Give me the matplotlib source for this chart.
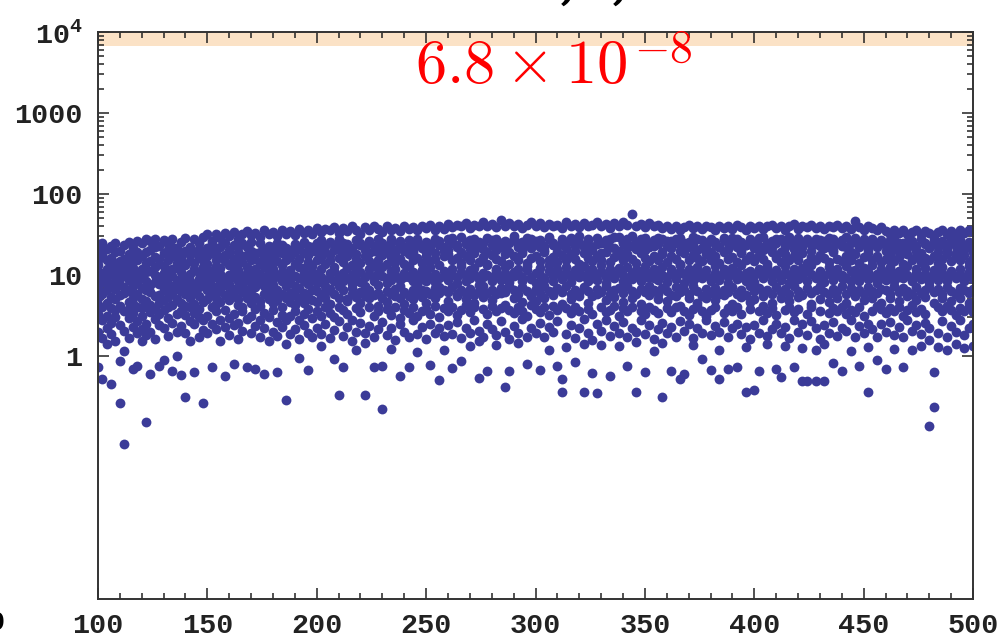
"""Log-scale scatter of sampled values, Mathematica-style frame."""
import matplotlib
matplotlib.use("Agg")
import matplotlib.pyplot as plt
from matplotlib.ticker import FixedLocator, NullFormatter

# x position of each sampled column
X_COLS = [
    100, 102, 104, 106, 108, 110, 112, 114, 116, 118,
    120, 122, 124, 126, 128, 130, 132, 134, 136, 138,
    140, 142, 144, 146, 148, 150, 152, 154, 156, 158,
    160, 162, 164, 166, 168, 170, 172, 174, 176, 178,
    180, 182, 184, 186, 188, 190, 192, 194, 196, 198,
    200, 202, 204, 206, 208, 210, 212, 214, 216, 218,
    220, 222, 224, 226, 228, 230, 232, 234, 236, 238,
    240, 242, 244, 246, 248, 250, 252, 254, 256, 258,
    260, 262, 264, 266, 268, 270, 272, 274, 276, 278,
    280, 282, 284, 286, 288, 290, 292, 294, 296, 298,
    300, 302, 304, 306, 308, 310, 312, 314, 316, 318,
    320, 322, 324, 326, 328, 330, 332, 334, 336, 338,
    340, 342, 344, 346, 348, 350, 352, 354, 356, 358,
    360, 362, 364, 366, 368, 370, 372, 374, 376, 378,
    380, 382, 384, 386, 388, 390, 392, 394, 396, 398,
    400, 402, 404, 406, 408, 410, 412, 414, 416, 418,
    420, 422, 424, 426, 428, 430, 432, 434, 436, 438,
    440, 442, 444, 446, 448, 450, 452, 454, 456, 458,
    460, 462, 464, 466, 468, 470, 472, 474, 476, 478,
    480, 482, 484, 486, 488, 490, 492, 494, 496, 498,
    500,
]

# log10(y) * 100 for the points in each column
LOGY_CENTI = [
    [138, 112, 95, 71, 52, 30, 118, 84, -14, 63],  # 100
    [125, 140, 103, 77, 44, 22, 91, 60, -28, 130],
    [132, 98, 118, 66, 35, 81, 107, 50, 15, 89],
    [121, 136, 86, 59, 101, 27, 73, 112, 41, -34],
    [140, 115, 92, 70, 48, 128, 19, 83, 104, 57],
    [130, 106, 88, 62, 38, -58, 117, 75, 96, -6],  # 110
    [137, 99, 120, 78, 55, -109, 31, 85, 110, 6],
    [126, 141, 94, 67, 47, 113, 80, 22, 58, 102],
    [133, 109, 87, 72, 36, 121, 95, 53, -16, 64],
    [142, 118, 101, 76, 43, 90, 28, -12, 128, 61],
    [139, 124, 97, 84, 59, 33, 107, 70, 18, 49],  # 120
    [144, 115, 93, 68, 40, -81, 129, 82, 104, 26],
    [131, 142, 105, 79, 54, 117, 88, 30, 63, -22],
    [145, 122, 100, 74, 46, 134, 91, 58, 21, 110],
    [136, 113, 89, 66, 120, 38, 97, 75, -12, 52],
    [143, 127, 102, 81, 57, 111, 34, 92, 69, -5],  # 130
    [138, 119, 96, 73, 47, 131, 85, 25, 106, 61],
    [145, 108, 124, 87, 63, 41, 99, 78, -18, 135],
    [133, 115, 94, 70, 52, 126, 83, 30, 109, 0],
    [141, 122, 104, 80, 56, 37, 118, 90, 66, -24],
    [146, 130, 98, 77, 51, -50, 112, 86, 28, 62],  # 140
    [135, 117, 101, 84, 60, 125, 43, 92, 19, 71],
    [144, 128, 107, 88, 64, 39, 115, 79, 53, -20],
    [139, 121, 95, 74, 48, 132, 103, 85, 24, 58],
    [147, 110, 126, 90, 67, -58, 99, 45, 118, 32],
    [150, 133, 114, 93, 70, 50, 124, 82, 29, 104],  # 150
    [142, 127, 105, 86, 61, 138, 96, 40, 76, -13],
    [151, 119, 130, 98, 72, 55, 111, 84, 33, 64],
    [146, 135, 109, 91, 67, 44, 122, 80, 18, 101],
    [152, 125, 117, 95, 75, 57, 140, 88, 36, -25],
    [148, 131, 112, 89, 69, 47, 126, 100, 26, 78],  # 160
    [153, 137, 120, 97, 74, 52, 108, 83, 38, -10],
    [145, 128, 106, 92, 63, 41, 134, 115, 21, 70],
    [150, 123, 116, 99, 79, 55, 139, 87, 31, 60],
    [154, 134, 110, 94, 71, 46, 125, 102, -14, 82],
    [149, 130, 118, 90, 66, 50, 141, 104, 28, 76],  # 170
    [152, 127, 107, 96, 73, 58, 120, 85, 37, -16],
    [147, 139, 113, 93, 68, 44, 129, 101, 23, 62],
    [155, 132, 121, 98, 77, 53, 110, 86, 34, -22],
    [150, 126, 115, 91, 70, 48, 136, 103, 19, 80],
    [153, 135, 108, 95, 74, 57, 124, 88, 30, 65],  # 180
    [148, 129, 117, 100, 69, 42, 140, 82, 25, -20],
    [156, 137, 112, 92, 76, 51, 127, 104, 36, 60],
    [151, 125, 119, 97, 72, -54, 133, 86, 44, 15],
    [154, 131, 106, 94, 67, 49, 122, 101, 27, 78],
    [149, 138, 114, 99, 75, 55, 128, 87, 33, 63],  # 190
    [157, 133, 120, 96, 70, 45, 110, 84, 21, -2],
    [152, 127, 109, 93, 78, 52, 141, 102, 38, 66],
    [155, 136, 116, 98, 73, 58, 125, 89, 29, -17],
    [150, 130, 111, 95, 69, 47, 134, 104, 24, 81],
    [158, 139, 118, 101, 80, 56, 128, 90, 35, 67],  # 200
    [153, 134, 122, 97, 74, 50, 143, 108, 27, 12],
    [157, 129, 113, 94, 71, 61, 136, 86, 40, 78],
    [155, 141, 119, 103, 83, 53, 125, 96, 22, 64],
    [159, 137, 110, 92, 76, 48, 131, 105, 32, -4],
    [152, 132, 121, 99, 72, -48, 144, 87, 43, 60],  # 210
    [158, 140, 116, 102, 81, 57, 127, 93, 25, -14],
    [154, 135, 124, 96, 70, 52, 138, 109, 36, 68],
    [160, 128, 112, 100, 77, 45, 133, 89, 19, 84],
    [156, 143, 120, 95, 73, 59, 126, 106, 30, 7],
    [151, 137, 115, 104, 79, 54, 140, 91, 41, 65],  # 220
    [159, 131, 123, 98, 74, -48, 134, 86, 28, 16],
    [155, 142, 117, 101, 82, 60, 127, 108, 37, 71],
    [161, 136, 111, 93, 75, 50, 130, 97, 23, -14],
    [157, 129, 119, 103, 78, 56, 145, 88, 33, 62],
    [153, 140, 125, 99, 72, -65, 136, 110, 42, -12],  # 230
    [160, 134, 114, 96, 80, 58, 128, 90, 26, 67],
    [156, 144, 122, 105, 76, 51, 139, 94, 35, 9],
    [158, 131, 116, 100, 83, 61, 126, 107, 20, 74],
    [154, 138, 120, 94, 71, 47, 142, 87, 39, -25],
    [161, 135, 113, 102, 79, 57, 130, 98, 30, 64],  # 240
    [157, 143, 126, 97, 74, 53, 137, 111, 24, -13],
    [159, 132, 118, 104, 81, 60, 128, 92, 44, 70],
    [155, 140, 121, 99, 77, 49, 145, 89, 27, 5],
    [160, 136, 115, 95, 73, 55, 133, 106, 36, 82],
    [158, 141, 124, 103, 80, 58, 129, 93, 21, 66],  # 250
    [162, 133, 117, 98, 76, 52, 138, 110, 40, -11],
    [156, 145, 120, 101, 84, 62, 127, 91, 29, 72],
    [161, 137, 112, 96, 78, 48, 142, -30, 34, 85],
    [157, 130, 123, 105, 82, 59, 135, 99, 25, 8],
    [163, 144, 126, 102, 79, 56, 131, 94, 38, 68],  # 260
    [159, 139, 118, 100, 85, 61, 146, 108, 27, -15],
    [162, 134, 121, 97, 74, 51, 137, 90, 42, 76],
    [160, 147, 115, 104, 81, 57, 129, 111, 22, -6],
    [164, 138, 124, 99, 77, 63, 141, 93, 35, 70],
    [158, 143, 119, 106, 83, 54, 132, 96, 28, 12],  # 270
    [162, 136, 127, 101, 75, 60, 145, 109, 45, 66],
    [160, 141, 116, 95, 80, -27, 134, 88, 31, 19],
    [165, 132, 122, 103, 86, 58, 139, 98, 24, 73],
    [161, 146, 113, 100, 78, 52, 128, 112, 40, -18],
    [163, 137, 125, 97, 82, 62, 143, 92, 33, 69],  # 280
    [159, 144, 120, 105, 76, 55, 131, 107, 26, 14],
    [168, 135, 117, 99, 84, 59, 140, 94, 43, 78],
    [161, 142, 126, 102, 79, -38, 136, 110, 30, 63],
    [164, 139, 114, 96, 87, 57, 129, 91, 21, -19],
    [160, 148, 123, 104, 81, 53, 144, 99, 37, 72],  # 290
    [163, 134, 119, 101, 77, 61, 138, 108, 28, 16],
    [158, 141, 127, 98, 85, 56, 130, 93, 46, 67],
    [162, 137, 115, 106, 80, 50, 146, 111, 23, -10],
    [165, 145, 121, 97, 74, 63, 133, 95, 34, 75],
    [161, 138, 124, 103, 83, 58, 142, 90, 29, 68],  # 300
    [164, 143, 117, 100, 78, 54, 135, 109, 41, -17],
    [159, 136, 128, 96, 86, 60, 131, 94, 24, 72],
    [163, 147, 119, 105, 80, 51, 144, 112, 36, 7],
    [160, 140, 122, 99, 75, 62, 137, 92, 30, 79],
    [162, 134, 116, 102, 84, 57, 129, 107, 43, -12],  # 310
    [158, 145, 125, 98, 79, -44, 140, 95, -28, 64],
    [165, 139, 118, 104, 87, 59, 133, 110, 27, 11],
    [161, 142, 126, 97, 76, 53, 146, 91, 38, 70],
    [163, 136, 120, 101, 82, 61, 130, 106, 22, -8],
    [159, 148, 114, 106, 78, 55, 139, 97, 34, 74],  # 320
    [164, 137, 127, 99, 85, -44, 134, 111, 46, 15],
    [160, 143, 121, 103, 80, 58, 145, 93, 29, 66],
    [162, 135, 117, 96, 74, 52, 131, 108, 20, -21],
    [166, 146, 124, 100, 83, -46, 138, 94, 40, 77],
    [161, 140, 119, 105, 79, 60, 127, 112, 31, 14],  # 330
    [163, 138, 128, 98, 86, 54, 143, 90, 44, 69],
    [158, 144, 116, 102, 77, 57, 135, 107, 25, -25],
    [164, 133, 122, 97, 81, 62, 147, 96, 37, 73],
    [160, 147, 125, 104, 84, 50, 130, 109, 28, 12],
    [165, 139, 118, 100, 78, 59, 141, 92, 42, 67],  # 340
    [162, 144, 126, 96, 87, 55, 134, 110, 23, -12],
    [175, 136, 120, 103, 80, 61, 148, 95, 35, 71],
    [161, 141, 115, 99, 76, -45, 132, 106, 30, 17],
    [163, 137, 127, 105, 83, 56, 144, 93, 45, 64],
    [159, 146, 121, 98, 79, 52, 131, 111, 27, -20],  # 350
    [164, 134, 117, 102, 86, 60, 140, 97, 38, 75],
    [160, 143, 124, 96, 81, 57, 136, 108, 21, 6],
    [162, 138, 119, 104, 77, 53, 146, 94, 33, 70],
    [158, 145, 126, 100, 84, -50, 129, 110, 41, 16],
    [161, 136, 116, 97, 80, 59, 142, 91, 29, 68],  # 360
    [157, 142, 123, 103, 75, 54, 133, 107, 36, -19],
    [160, 139, 120, 99, 85, 61, 145, 95, 24, 74],
    [156, 146, 114, 105, 79, -28, 130, 112, 43, 62],
    [159, 134, 127, 101, 82, 56, 139, 90, 31, -22],
    [162, 141, 118, 96, 77, 51, 135, 108, 39, 71],  # 370
    [158, 137, 125, 104, 86, 58, 147, 93, 22, 14],
    [160, 144, 121, 98, 80, 62, 131, 110, 35, 66],
    [157, 133, 117, 102, 74, 55, 143, 96, 28, -4],
    [161, 140, 126, 100, 83, 50, 136, 106, 44, 72],
    [159, 145, 119, 95, 78, 57, 129, 92, 26, -17],  # 380
    [156, 138, 124, 103, 84, 60, 141, 111, 37, 69],
    [160, 135, 115, 99, 76, -28, 134, 94, 30, 7],
    [158, 143, 128, 105, 81, 53, 146, 107, 42, 75],
    [161, 139, 120, 97, 79, 59, 132, 90, 23, -16],
    [157, 146, 122, 101, 85, 55, 138, 109, 34, 64],  # 390
    [162, 134, 116, 104, 77, 61, 144, 95, 40, -14],
    [159, 141, 127, 98, 82, 52, 130, 112, 27, 73],
    [156, 137, 119, 102, 75, -45, 137, 93, 36, 11],
    [160, 144, 123, 96, 86, 58, 142, 105, 21, 67],
    [158, 140, 117, 100, 80, -42, 133, 91, 38, 70],  # 400
    [161, 136, 125, 103, 84, 56, 146, 108, 29, -19],
    [157, 147, 120, 97, 78, 62, 131, 96, 44, 74],
    [160, 133, 114, 105, 82, 53, 140, 110, 25, 15],
    [162, 142, 128, 99, 76, 59, 135, 92, 33, 66],
    [158, 139, 121, 102, 85, 51, 144, 106, 40, -16],  # 410
    [161, 145, 116, 96, 79, -26, 129, 94, 28, 71],
    [156, 135, 126, 104, 83, 57, 139, 111, 36, 12],
    [160, 143, 118, 100, 77, 61, 147, 90, 22, 68],
    [163, 137, 124, 98, 86, 54, 132, 107, 45, -13],
    [157, 146, 119, 103, 80, 58, 141, 95, 30, 73],  # 420
    [161, 134, 127, 97, 75, -31, 136, 109, 39, 10],
    [159, 141, 115, 105, 84, 52, 145, 93, 26, -31],
    [162, 138, 122, 101, 78, 60, 130, 112, 43, 64],
    [158, 144, 118, 96, 82, -31, 138, 97, 34, 8],
    [160, 136, 125, 104, 87, 56, 143, 105, 21, 70],  # 430
    [157, 142, 121, 99, 79, -31, 133, 91, 38, 15],
    [161, 135, 116, 102, 76, 53, 146, 110, 29, 67],
    [159, 145, 128, 97, 83, 59, 131, 94, 42, -9],
    [162, 139, 120, 103, 80, 55, 140, 108, 25, 72],
    [158, 143, 117, 100, 86, 61, 136, 96, 35, -18],  # 440
    [160, 134, 124, 96, 77, 52, 147, 111, 31, 65],
    [157, 140, 119, 105, 84, 57, 129, 92, 44, 6],
    [167, 146, 126, 98, 79, 54, 142, 106, 23, 74],
    [159, 137, 115, 102, 82, 60, 134, 93, 37, -12],
    [156, 142, 122, 99, 76, 50, 145, 109, 28, 69],  # 450
    [160, 135, 127, 104, 85, -44, 131, 95, 40, 11],
    [158, 144, 118, 97, 80, 56, 139, 112, 33, 71],
    [155, 138, 123, 101, 78, 62, 135, 90, 24, -5],
    [159, 141, 116, 96, 83, 58, 143, 107, 39, 66],
    [154, 136, 120, 103, 81, 53, 130, 94, 30, -16],  # 460
    [151, 143, 125, 98, 77, 59, 138, 110, 42, 72],
    [155, 132, 117, 102, 86, 55, 144, 92, 26, 9],
    [152, 140, 122, 97, 79, 61, 128, 105, 36, 68],
    [156, 135, 114, 104, 84, 50, 139, 96, 23, -14],
    [150, 141, 126, 100, 80, 57, 133, 111, 45, 74],  # 470
    [153, 137, 119, 95, 76, 63, 142, 93, 31, 7],
    [155, 130, 123, 103, 85, 54, 136, 107, 38, 69],
    [151, 144, 116, 99, 78, 58, 127, 95, 27, 12],
    [154, 138, 121, 101, 82, 52, 140, 109, 41, 73],
    [152, 133, 118, 96, 87, -86, 134, 91, 34, 20],  # 480
    [149, 140, 124, 104, 79, -63, 145, 106, -20, 66],
    [153, 135, 115, 98, 83, 60, 129, 94, 29, 11],
    [156, 142, 120, 102, 77, 55, 138, 110, 43, 71],
    [150, 131, 126, 97, 85, 62, 133, 92, 24, 8],
    [154, 139, 117, 103, 80, 57, 144, 105, 37, 68],  # 490
    [151, 136, 122, 99, 76, 51, 127, 96, 30, 15],
    [155, 143, 119, 101, 84, 59, 140, 108, 44, 72],
    [152, 134, 125, 96, 81, 56, 131, 93, 26, 10],
    [156, 141, 116, 104, 78, 61, 137, 111, 35, 65],
    [153, 138, 121, 100, 83, 54, 129, 95, 40, 12],  # 500
]

Y_TICKS = [1, 10, 100, 1000, 10000]
Y_TICK_LABELS = ["1", "10", "100", "1000", "10$^{4}$"]
X_TICKS = [100, 150, 200, 250, 300, 350, 400, 450, 500]
VALUE_MANTISSA = r"$6.8\times10$"
VALUE_EXPONENT = r"$-8$"

DOT = "#3b3b98"
BAND = "#fbe2c6"

plt.rcParams["mathtext.fontset"] = "custom"
plt.rcParams["mathtext.rm"] = "Liberation Mono:bold"
plt.rcParams["mathtext.bf"] = "Liberation Mono:bold"
tick_font = {"family": "Liberation Mono", "weight": "bold", "size": 20.5}

xs, ys = [], []
for x, col in zip(X_COLS, LOGY_CENTI):
    for v in col:
        xs.append(x)
        ys.append(10 ** (v / 100))

fig = plt.figure(figsize=(10.03, 6.41), dpi=100)
ax = fig.add_axes([0.0977, 0.0655, 0.8724, 0.8846])

ax.axhspan(6700, 10000, color=BAND, zorder=0, lw=0)
ax.scatter(xs, ys, s=50, color=DOT, linewidths=0, zorder=2)

ax.set_yscale("log")
ax.set_xlim(100, 500)
ax.set_ylim(1e-3, 1e4)

ax.set_xticks(X_TICKS)
ax.set_xticklabels([str(t) for t in X_TICKS], fontdict=tick_font)
ax.xaxis.set_minor_locator(FixedLocator(list(range(100, 501, 10))))
ax.set_yticks(Y_TICKS)
ax.set_yticklabels(Y_TICK_LABELS, fontdict=tick_font)
minor_y = [k * 10 ** d for d in range(0, 4) for k in range(2, 10)]
ax.yaxis.set_minor_locator(FixedLocator(minor_y))
ax.yaxis.set_minor_formatter(NullFormatter())

ax.tick_params(which="both", direction="in", top=True, right=True,
               colors="#222222", width=1.1)
ax.tick_params(which="major", length=8)
ax.tick_params(which="minor", length=4)
ax.tick_params(axis="x", which="major", pad=10)
ax.tick_params(axis="y", which="major", pad=11)
for sp in ax.spines.values():
    sp.set_linewidth(1.4)
    sp.set_color("#333333")

# the label of the tick at 50 sits half outside the picture
ax.text(50, -0.019, "50", transform=ax.get_xaxis_transform(), ha="center",
        va="top", fontdict=tick_font, clip_on=False)

# red value label, exponent set a little lower than TeX would place it
fig.text(415 / 1003, 1 - 83 / 641, VALUE_MANTISSA, color="red", fontsize=45,
         ha="left", va="baseline", math_fontfamily="cm")
fig.text(634 / 1003, 1 - 62 / 641, VALUE_EXPONENT, color="red", fontsize=33,
         ha="left", va="baseline", math_fontfamily="cm")

# bottom of a cut-off heading above the frame
for px, dy, s in [(423, 1.018, "("), (569, 1.004, ","), (621, 1.004, ","),
                  (646, 1.018, ")")]:
    fig.text(px / 1003, dy, s, fontsize=44, ha="center", va="baseline",
             math_fontfamily="cm", family="DejaVu Serif")

fig.savefig("out.png", dpi=100)
